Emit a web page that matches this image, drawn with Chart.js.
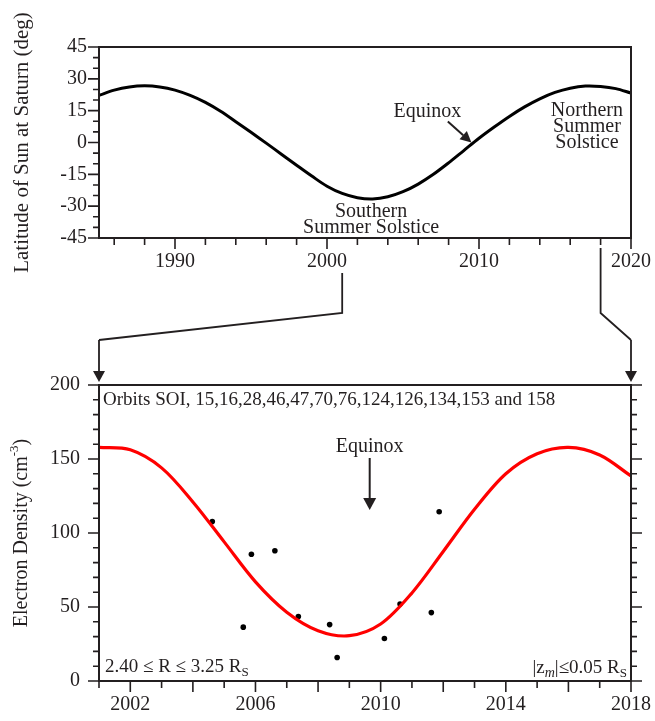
<!DOCTYPE html>
<html>
<head>
<meta charset="utf-8">
<script src="https://cdn.jsdelivr.net/npm/chart.js@4/dist/chart.umd.min.js"></script>
<style>
  body { margin: 0; background: #fff; }
  #wrap { position: relative; width: 655px; height: 721px; }
  canvas { position: absolute; left: 0; }
</style>
</head>
<body>
<div id="wrap">
  <canvas id="latChart" width="655" height="300" style="top:0"></canvas>
  <canvas id="densChart" width="655" height="421" style="top:300px"></canvas>
  <canvas id="links" width="655" height="721" style="top:0;pointer-events:none"></canvas>
</div>
<script>
// sub-solar latitude at Saturn
const latYears = [1985, 1986, 1987, 1988, 1989, 1990, 1991, 1992, 1993, 1994, 1995, 1996,
  1997, 1998, 1999, 2000, 2001, 2002, 2003, 2004, 2005, 2006, 2007, 2008,
  2009, 2010, 2011, 2012, 2013, 2014, 2015, 2016, 2017, 2018, 2019, 2020];
const latValues = [22.2, 24.7, 26.2, 26.7, 26.2, 24.7, 22.2, 18.9, 14.7, 9.8, 4.8, -0.3,
  -5.5, -10.7, -15.8, -20.6, -24.0, -26.0, -26.6, -25.6, -23.2, -19.6, -15.0, -9.6,
  -3.8, 2.0, 7.3, 12.3, 16.8, 20.6, 23.6, 25.6, 26.6, 26.4, 25.4, 23.3];
const latXTicks = [1990, 2000, 2010, 2020];
const latYTicks = [-45, -30, -15, 0, 15, 30, 45];

// fitted electron density curve (red)
const fitYears = [2001, 2002, 2003, 2004, 2005, 2006, 2007, 2008, 2009,
  2010, 2011, 2012, 2013, 2014, 2015, 2016, 2017, 2018];
const fitDensity = [157.8, 156.2, 144, 121, 94, 67, 46.5, 34, 30.6,
  38.5, 59.5, 87.5, 116, 140, 153.5, 157.8, 152.7, 138.5];

// measured densities (black dots)
const obsYears = [2004.62, 2005.61, 2005.87, 2006.62, 2007.37, 2008.37, 2008.61,
  2010.12, 2010.62, 2011.62, 2011.87];
const obsDensity = [107.7, 36.4, 85.6, 88.0, 43.5, 38.1, 15.9, 28.7, 52.0, 46.2, 114.4];

const densXTicks = [2002, 2006, 2010, 2014, 2018];
const densYTicks = [0, 50, 100, 150, 200];

const EQUINOX = 2009.6;
const SERIF = "'Liberation Serif', 'Times New Roman', serif";
const INK = '#231f20';

function arrow(ctx, x1, y1, x2, y2, len, half) {
  const a = Math.atan2(y2 - y1, x2 - x1);
  const bx = x2 - len * Math.cos(a), by = y2 - len * Math.sin(a);
  ctx.beginPath();
  ctx.moveTo(x1, y1);
  ctx.lineTo(bx, by);
  ctx.stroke();
  ctx.beginPath();
  ctx.moveTo(x2, y2);
  ctx.lineTo(bx + half * Math.sin(a), by - half * Math.cos(a));
  ctx.lineTo(bx - half * Math.sin(a), by + half * Math.cos(a));
  ctx.closePath();
  ctx.fill();
}

// draw pieces of text [txt, size, dy, italic] one after another
function richText(ctx, parts, x, y, align) {
  let w = 0;
  parts.forEach(p => {
    ctx.font = (p[3] ? 'italic ' : '') + p[1] + 'px ' + SERIF;
    w += ctx.measureText(p[0]).width;
  });
  let cx = align === 'center' ? x - w / 2 : align === 'right' ? x - w : x;
  ctx.textAlign = 'left';
  parts.forEach(p => {
    ctx.font = (p[3] ? 'italic ' : '') + p[1] + 'px ' + SERIF;
    ctx.fillText(p[0], cx, y + (p[2] || 0));
    cx += ctx.measureText(p[0]).width;
  });
}

const frame = {
  id: 'frame',
  afterDraw(chart, args, o) {
    const { ctx, chartArea: { left, right, top, bottom }, scales: { x, y } } = chart;
    ctx.save();
    ctx.strokeStyle = INK;
    ctx.fillStyle = INK;
    ctx.lineWidth = 2;
    ctx.strokeRect(left, top, right - left, bottom - top);

    ctx.lineWidth = 1.6;
    ctx.beginPath();
    for (let v = Math.ceil(x.min / o.xMinor) * o.xMinor; v <= x.max + 1e-6; v += o.xMinor) {
      const px = x.getPixelForValue(v);
      const len = Math.abs(v % o.xMajor) < 1e-6 ? 11 : 7;
      ctx.moveTo(px, bottom);
      ctx.lineTo(px, bottom + len);
    }
    for (let v = Math.ceil(y.min / o.yMinor) * o.yMinor; v <= y.max + 1e-6; v += o.yMinor) {
      const py = y.getPixelForValue(v);
      const len = Math.abs(v % o.yMajor) < 1e-6 ? 11 : 6;
      ctx.moveTo(left - len, py);
      ctx.lineTo(left, py);
      if (o.rightTicks) {
        ctx.moveTo(right, py);
        ctx.lineTo(right + len, py);
      }
    }
    ctx.stroke();

    // y axis title
    ctx.translate(22, (top + bottom) / 2);
    ctx.rotate(-Math.PI / 2);
    ctx.textBaseline = 'middle';
    richText(ctx, o.title, 0, 0, 'center');
    ctx.restore();
  }
};

function baseOptions(xMin, xMax, yMin, yMax, xTicks, yTicks, padTop, xHeight, yPad, xPad) {
  const tickFont = { family: SERIF, size: 20 };
  return {
    responsive: false,
    animation: false,
    layout: { padding: { top: padTop, right: 24, left: 0, bottom: 0 } },
    scales: {
      x: {
        type: 'linear', min: xMin, max: xMax,
        grid: { display: false, drawTicks: false },
        border: { display: false },
        ticks: { font: tickFont, color: INK, padding: xPad, autoSkip: false, maxRotation: 0,
          callback: v => String(v) },
        afterBuildTicks: s => { s.ticks = xTicks.map(v => ({ value: v })); },
        afterFit: s => { s.height = xHeight; s.paddingLeft = 0; s.paddingRight = 0; }
      },
      y: {
        type: 'linear', min: yMin, max: yMax,
        grid: { display: false, drawTicks: false },
        border: { display: false },
        ticks: { font: tickFont, color: INK, padding: yPad, autoSkip: false,
          callback: v => String(v) },
        afterBuildTicks: s => { s.ticks = yTicks.map(v => ({ value: v })); },
        afterFit: s => { s.width = 99; s.paddingTop = 0; s.paddingBottom = 0; }
      }
    },
    plugins: { legend: { display: false }, tooltip: { enabled: false } }
  };
}

// ---- upper panel ----
const latOpts = baseOptions(1985, 2020, -45, 45, latXTicks, latYTicks, 47, 62, 12, 12);
latOpts.plugins.frame = {
  xMinor: 2, xMajor: 10, yMinor: 5, yMajor: 15, rightTicks: false,
  title: [['Latitude of Sun at Saturn (deg)', 21]]
};
const latNotes = {
  id: 'latNotes',
  afterDraw(chart) {
    const { ctx, chartArea: { bottom }, scales: { x, y } } = chart;
    ctx.save();
    ctx.fillStyle = INK;
    ctx.strokeStyle = INK;
    ctx.textBaseline = 'alphabetic';
    ctx.font = '20px ' + SERIF;
    ctx.textAlign = 'center';
    ctx.fillText('Equinox', x.getPixelForValue(2006.6), y.getPixelForValue(11.8));
    ctx.lineWidth = 2;
    arrow(ctx, x.getPixelForValue(2007.95), y.getPixelForValue(9.9),
      x.getPixelForValue(EQUINOX - 0.1), y.getPixelForValue(0), 11, 5.5);
    const nx = x.getPixelForValue(2017.1), ny = y.getPixelForValue(12.6);
    ctx.fillText('Northern', nx, ny);
    ctx.fillText('Summer', nx, ny + 16);
    ctx.fillText('Solstice', nx, ny + 32);
    const sx = x.getPixelForValue(2002.9);
    ctx.fillText('Southern', sx, bottom - 21);
    ctx.fillText('Summer Solstice', sx, bottom - 5);
    ctx.restore();
  }
};
const latChart = new Chart(document.getElementById('latChart'), {
  type: 'line',
  data: {
    datasets: [{
      data: latYears.map((yr, i) => ({ x: yr, y: latValues[i] })),
      borderColor: '#000', borderWidth: 3, pointRadius: 0, tension: 0.33, fill: false
    }]
  },
  options: latOpts,
  plugins: [frame, latNotes]
});

// ---- lower panel ----
const densOpts = baseOptions(2001, 2018, 0, 200, densXTicks, densYTicks, 85, 40, 19, 12);
densOpts.plugins.frame = {
  xMinor: 1, xMajor: 2, yMinor: 10, yMajor: 50, rightTicks: true,
  title: [['Electron Density (cm', 20], ['-3', 13, -7], [')', 20]]
};
const densNotes = {
  id: 'densNotes',
  afterDraw(chart) {
    const { ctx, chartArea: { left, right, top, bottom }, scales: { x } } = chart;
    ctx.save();
    ctx.fillStyle = INK;
    ctx.strokeStyle = INK;
    ctx.textBaseline = 'alphabetic';
    richText(ctx, [['Orbits SOI, 15,16,28,46,47,70,76,124,126,134,153 and 158', 19]], left + 4, top + 20, 'left');
    const ex = x.getPixelForValue(EQUINOX + 0.05);
    richText(ctx, [['Equinox', 20]], ex, top + 67, 'center');
    ctx.lineWidth = 2;
    arrow(ctx, ex, top + 73, ex, top + 125, 12, 6.5);
    richText(ctx, [['2.40 \u2264 R \u2264 3.25 R', 19], ['S', 13, 4]], left + 6, bottom - 9, 'left');
    richText(ctx, [['|z', 19], ['m', 14, 4, true], ['|\u22640.05 R', 19], ['S', 13, 4]], right - 4, bottom - 8, 'right');
    ctx.restore();
  }
};
const densChart = new Chart(document.getElementById('densChart'), {
  type: 'line',
  data: {
    datasets: [{
      data: fitYears.map((yr, i) => ({ x: yr, y: fitDensity[i] })),
      borderColor: '#ff0000', borderWidth: 3.2, pointRadius: 0, tension: 0.33, fill: false
    }, {
      data: obsYears.map((yr, i) => ({ x: yr, y: obsDensity[i] })),
      showLine: false, pointRadius: 2.8, pointBackgroundColor: '#000', pointBorderWidth: 0
    }]
  },
  options: densOpts,
  plugins: [frame, densNotes]
});

// ---- zoom connectors between the panels ----
(function () {
  const lc = document.getElementById('links').getContext('2d');
  const off = 300;
  const tb = latChart.chartArea.bottom;
  const dA = densChart.chartArea;
  const xa = latChart.scales.x.getPixelForValue(densChart.scales.x.min);
  const xb = latChart.scales.x.getPixelForValue(densChart.scales.x.max);
  lc.strokeStyle = INK;
  lc.fillStyle = INK;
  lc.lineWidth = 1.8;
  lc.beginPath();
  lc.moveTo(xa, tb + 35);
  lc.lineTo(xa, tb + 75);
  lc.lineTo(dA.left, tb + 102);
  lc.stroke();
  arrow(lc, dA.left, tb + 102, dA.left, dA.top + off - 3, 11, 6);
  lc.beginPath();
  lc.moveTo(xb, tb + 10);
  lc.lineTo(xb, tb + 75);
  lc.lineTo(dA.right, tb + 102);
  lc.stroke();
  arrow(lc, dA.right, tb + 102, dA.right, dA.top + off - 3, 11, 6);
})();
</script>
</body>
</html>
